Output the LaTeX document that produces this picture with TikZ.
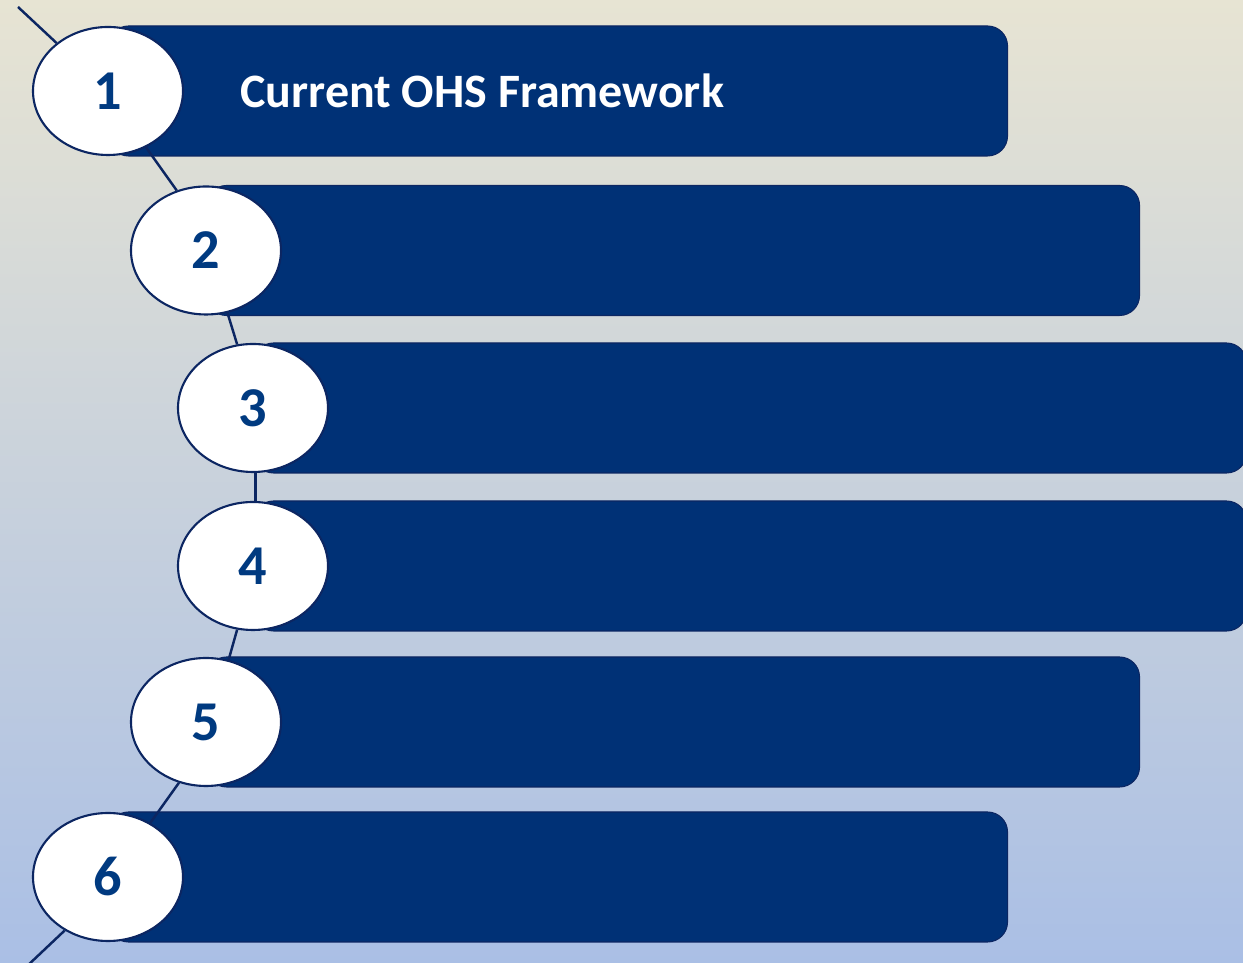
\documentclass[tikz,border=0pt]{standalone}
\usepackage{fontspec}
\setmainfont{Carlito}
\definecolor{ohsnavy}{RGB}{0, 49, 118}
\definecolor{ohsedge}{RGB}{12, 38, 98}
\definecolor{ohsdigit}{RGB}{0, 58, 128}
\definecolor{bgtop}{RGB}{231, 228, 211}
\definecolor{bgmid}{RGB}{200, 208, 220}
\definecolor{bgbot}{RGB}{170, 191, 229}
\usetikzlibrary{positioning, shapes.geometric}

\begin{document}
\begin{tikzpicture}[
  bar/.style={draw=ohsedge, line width=0.6pt, fill=ohsnavy, rounded corners=0.4cm, minimum height=2.6cm, anchor=west, inner sep=0pt},
  num/.style={ellipse, draw=ohsedge, line width=1.2pt, fill=white, minimum width=3cm, minimum height=2.56cm, inner sep=0pt, text=ohsdigit, font=\fontsize{32}{32}\selectfont\bfseries},
  link/.style={draw=ohsedge, line width=1.4pt}
]
\clip (0,0) rectangle (24.86,19.26);
\shade[top color=bgtop, middle color=bgmid, bottom color=bgbot] (0,0) rectangle (24.86,19.26);
% bars
\node[bar, minimum width=17.98cm] (b1) at (2.16,17.44) {};
\node[bar, minimum width=18.66cm] (b2) at (4.12,14.25) {};
\node[bar, minimum width=19.86cm] (b3) at (5.06,11.10) {};
\node[bar, minimum width=19.86cm] (b4) at (5.06,7.94) {};
\node[bar, minimum width=18.66cm] (b5) at (4.12,4.82) {};
\node[bar, minimum width=17.98cm] (b6) at (2.16,1.72) {};
\node[anchor=west, inner sep=0pt, text=white, font=\fontsize{27.3}{28}\selectfont\bfseries] (t1) at (4.8,17.44) {Current OHS Framework};
% numbered circles
\node[num] (n1) at (b1.west) {1};
\node[num] (n2) at (b2.west) {2};
\node[num] (n3) at (b3.west) {3};
\node[num] (n4) at (b4.west) {4};
\node[num] (n5) at (b5.west) {5};
\node[num] (n6) at (b6.west) {6};
% arc pieces between the circles
\coordinate (arctop) at (0.36,19.12);
\coordinate (arcbot) at (0.50,-0.10);
\draw[link] (arctop) -- (n1.137);
\draw[link] (n1.-56) -- (n2.116);
\draw[link] (n2.-71) -- (n3.104);
\draw[link] (n3.-88) -- (n4.88);
\draw[link] (n4.-104) -- (n5.70);
\draw[link] (n5.-114) -- (n6.52);
\draw[link] (n6.-129) -- (arcbot);
\end{tikzpicture}
\end{document}
